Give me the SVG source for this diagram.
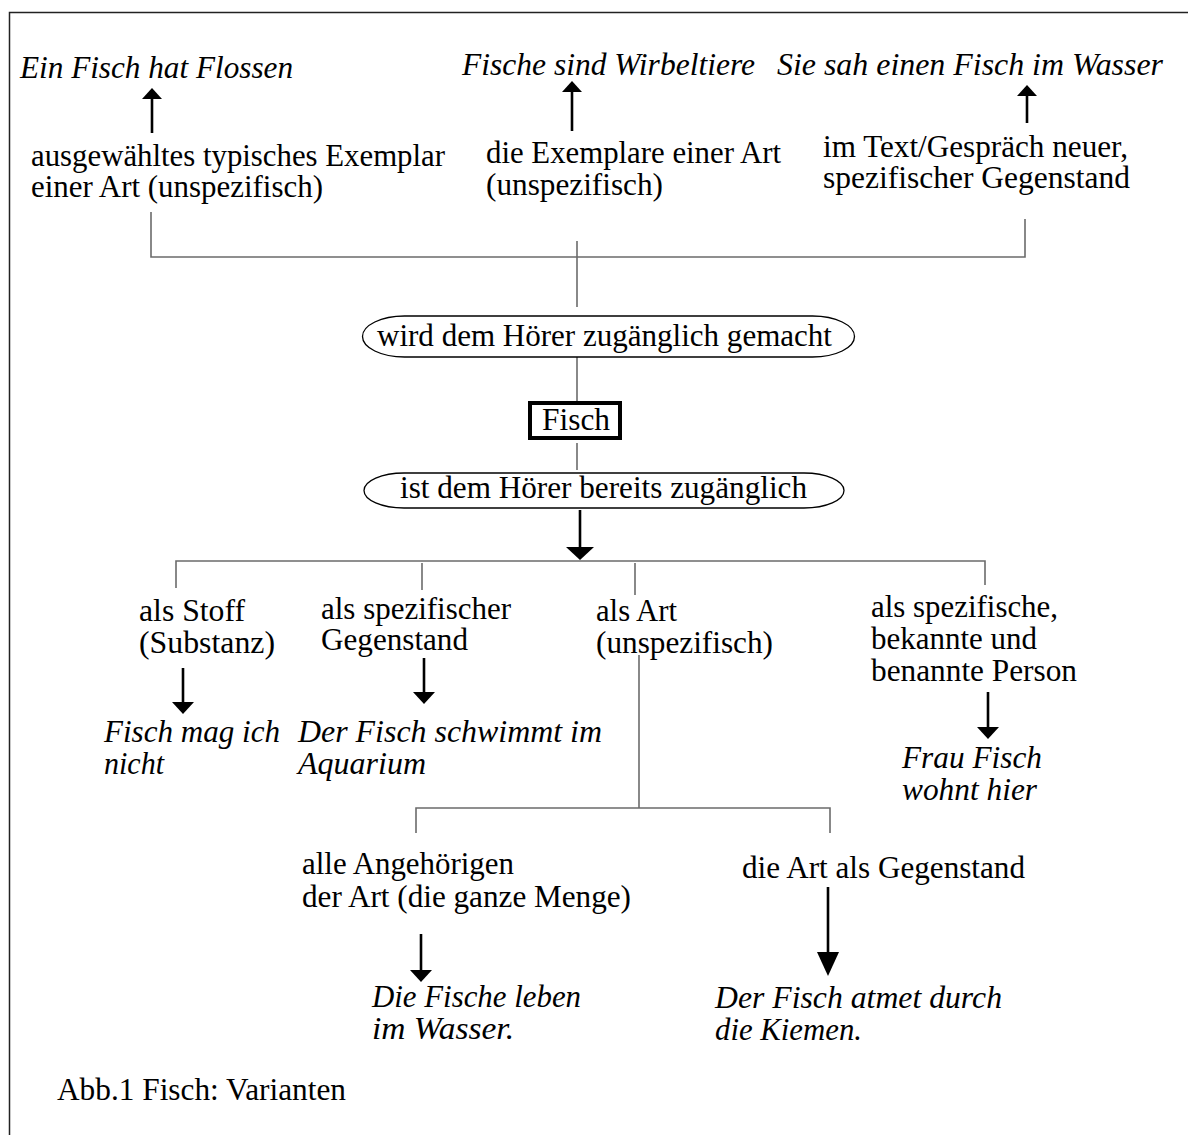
<svg xmlns="http://www.w3.org/2000/svg" width="1188" height="1135" viewBox="0 0 1188 1135">
<style>
text { font-family: "Liberation Serif", "Times New Roman", serif; font-size: 30.5px; fill: #000; }
.i { font-style: italic; }
.ln { stroke: #6b6b6b; stroke-width: 1.6; fill: none; }
.ar { stroke: #000; stroke-width: 2.6; fill: none; }
.frame { stroke: #222; stroke-width: 1.5; fill: none; }
.ell { fill: #fff; stroke: #000; stroke-width: 1.3; }
.box { fill: #fff; stroke: #000; stroke-width: 4; }
.mk { fill: #000; stroke: none; }
</style>
<defs>
<marker id="m-up" markerUnits="userSpaceOnUse" markerWidth="11" markerHeight="20" refX="0" refY="10" orient="auto"><path class="mk" d="M0,0 L11,10 L0,20 z"/></marker>
<marker id="m-main" markerUnits="userSpaceOnUse" markerWidth="13" markerHeight="28" refX="0" refY="14" orient="auto"><path class="mk" d="M0,0 L13,14 L0,28 z"/></marker>
<marker id="m-small" markerUnits="userSpaceOnUse" markerWidth="12" markerHeight="22" refX="0" refY="11" orient="auto"><path class="mk" d="M0,0 L12,11 L0,22 z"/></marker>
<marker id="m-big" markerUnits="userSpaceOnUse" markerWidth="24" markerHeight="22" refX="0" refY="11" orient="auto"><path class="mk" d="M0,0 L24,11 L0,22 z"/></marker>
</defs>
<rect width="1188" height="1135" fill="#fff"/>
<path class="frame" d="M9.5,1135 V12.5 H1188"/>

<g id="connectors">
<path class="ln" d="M151,212 V257 H1025 V219"/>
<path class="ln" d="M577,241 V307"/>
<path class="ln" d="M577,357 V402"/>
<path class="ln" d="M577,443 V470"/>
<path class="ln" d="M176,588 V561 H985 V585"/>
<path class="ln" d="M422,563 V590"/>
<path class="ln" d="M635,563 V595"/>
<path class="ln" d="M639,655 V808"/>
<path class="ln" d="M416,833 V808 H830 V833"/>
<path class="ar" d="M152,133 V99" marker-end="url(#m-up)"/>
<path class="ar" d="M572,131 V92" marker-end="url(#m-up)"/>
<path class="ar" d="M1027,123 V96" marker-end="url(#m-up)"/>
<path class="ar" d="M580,510 V547" marker-end="url(#m-main)"/>
<path class="ar" d="M183,668 V702" marker-end="url(#m-small)"/>
<path class="ar" d="M424,658 V692" marker-end="url(#m-small)"/>
<path class="ar" d="M988,692 V727" marker-end="url(#m-small)"/>
<path class="ar" d="M421,934 V970" marker-end="url(#m-small)"/>
<path class="ar" d="M828,887 V952" marker-end="url(#m-big)"/>
</g>

<g id="ex-flossen"><text class="i" x="20" y="78" textLength="273" lengthAdjust="spacingAndGlyphs">Ein Fisch hat Flossen</text></g>
<g id="ex-wirbeltiere"><text class="i" x="462" y="75" textLength="293" lengthAdjust="spacingAndGlyphs">Fische sind Wirbeltiere</text></g>
<g id="ex-wasser"><text class="i" x="777" y="75" textLength="386" lengthAdjust="spacingAndGlyphs">Sie sah einen Fisch im Wasser</text></g>

<g id="n-typisch"><text x="31" y="166" textLength="414" lengthAdjust="spacingAndGlyphs">ausgewähltes typisches Exemplar</text><text x="31" y="197" textLength="292" lengthAdjust="spacingAndGlyphs">einer Art (unspezifisch)</text></g>
<g id="n-exemplare"><text x="486" y="163" textLength="295" lengthAdjust="spacingAndGlyphs">die Exemplare einer Art</text><text x="486" y="195" textLength="177" lengthAdjust="spacingAndGlyphs">(unspezifisch)</text></g>
<g id="n-neu"><text x="823" y="157" textLength="305" lengthAdjust="spacingAndGlyphs">im Text/Gespräch neuer,</text><text x="823" y="188" textLength="307" lengthAdjust="spacingAndGlyphs">spezifischer Gegenstand</text></g>

<g id="n-gemacht"><rect class="ell" x="362.5" y="316" width="492" height="41" rx="42" ry="20.5"/><text x="377" y="346" textLength="455" lengthAdjust="spacingAndGlyphs">wird dem Hörer zugänglich gemacht</text></g>
<g id="n-fisch"><rect class="box" x="530" y="403" width="90" height="35"/><text x="542" y="430" textLength="68" lengthAdjust="spacingAndGlyphs">Fisch</text></g>
<g id="n-bereits"><rect class="ell" x="364" y="473" width="480" height="35" rx="40" ry="17.5"/><text x="400" y="498" textLength="407" lengthAdjust="spacingAndGlyphs">ist dem Hörer bereits zugänglich</text></g>

<g id="n-stoff"><text x="139" y="621" textLength="106" lengthAdjust="spacingAndGlyphs">als Stoff</text><text x="139" y="653" textLength="136" lengthAdjust="spacingAndGlyphs">(Substanz)</text></g>
<g id="n-spezgeg"><text x="321" y="619" textLength="190" lengthAdjust="spacingAndGlyphs">als spezifischer</text><text x="321" y="650" textLength="147" lengthAdjust="spacingAndGlyphs">Gegenstand</text></g>
<g id="n-art"><text x="596" y="621" textLength="81" lengthAdjust="spacingAndGlyphs">als Art</text><text x="596" y="653" textLength="177" lengthAdjust="spacingAndGlyphs">(unspezifisch)</text></g>
<g id="n-person"><text x="871" y="617" textLength="187" lengthAdjust="spacingAndGlyphs">als spezifische,</text><text x="871" y="649" textLength="166" lengthAdjust="spacingAndGlyphs">bekannte und</text><text x="871" y="681" textLength="206" lengthAdjust="spacingAndGlyphs">benannte Person</text></g>

<g id="ex-mag"><text class="i" x="104" y="742" textLength="176" lengthAdjust="spacingAndGlyphs">Fisch mag ich</text><text class="i" x="104" y="774" textLength="60" lengthAdjust="spacingAndGlyphs">nicht</text></g>
<g id="ex-aquarium"><text class="i" x="298" y="742" textLength="304" lengthAdjust="spacingAndGlyphs">Der Fisch schwimmt im</text><text class="i" x="298" y="774" textLength="128" lengthAdjust="spacingAndGlyphs">Aquarium</text></g>
<g id="ex-frau"><text class="i" x="902" y="768" textLength="140" lengthAdjust="spacingAndGlyphs">Frau Fisch</text><text class="i" x="902" y="800" textLength="135" lengthAdjust="spacingAndGlyphs">wohnt hier</text></g>

<g id="n-alle"><text x="302" y="874" textLength="212" lengthAdjust="spacingAndGlyphs">alle Angehörigen</text><text x="302" y="907" textLength="329" lengthAdjust="spacingAndGlyphs">der Art (die ganze Menge)</text></g>
<g id="n-artgeg"><text x="742" y="878" textLength="283" lengthAdjust="spacingAndGlyphs">die Art als Gegenstand</text></g>

<g id="ex-leben"><text class="i" x="372" y="1007" textLength="209" lengthAdjust="spacingAndGlyphs">Die Fische leben</text><text class="i" x="372" y="1039" textLength="142" lengthAdjust="spacingAndGlyphs">im Wasser.</text></g>
<g id="ex-kiemen"><text class="i" x="715" y="1008" textLength="287" lengthAdjust="spacingAndGlyphs">Der Fisch atmet durch</text><text class="i" x="715" y="1040" textLength="147" lengthAdjust="spacingAndGlyphs">die Kiemen.</text></g>

<g id="caption"><text x="57" y="1100" textLength="289" lengthAdjust="spacingAndGlyphs">Abb.1 Fisch: Varianten</text></g>
</svg>
